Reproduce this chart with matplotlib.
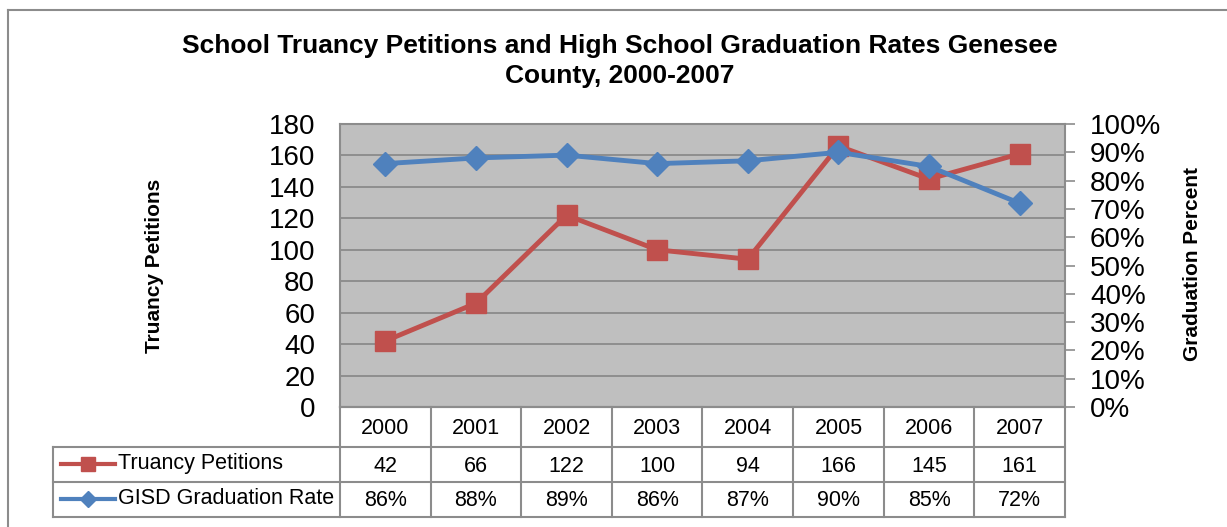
import matplotlib
matplotlib.use('Agg')
import matplotlib.pyplot as plt
from matplotlib.lines import Line2D

years = ['2000', '2001', '2002', '2003', '2004', '2005', '2006', '2007']
truancy = [42, 66, 122, 100, 94, 166, 145, 161]
grad_rate = [0.86, 0.88, 0.89, 0.86, 0.87, 0.90, 0.85, 0.72]
left_ticks = [0, 20, 40, 60, 80, 100, 120, 140, 160, 180]
right_ticks = [i / 10 for i in range(11)]

RED = '#C0504D'
BLUE = '#4F81BD'
GRID = '#868686'
BORDER = '#8C8C8C'

W, H = 1227, 527
fig = plt.figure(figsize=(W / 100, H / 100), dpi=100)
plt.rcParams['font.family'] = ['Liberation Sans', 'DejaVu Sans']


def fx(px):
    return px / W


def fy(py):
    return 1 - py / H


# plot area in pixels
L, R, T, B = 340, 1065, 124, 407
ax = fig.add_axes([fx(L), fy(B), fx(R) - fx(L), fy(T) - fy(B)])
ax.set_facecolor('#BFBFBF')
ax.set_xlim(-0.5, len(years) - 0.5)
ax.set_ylim(0, 180)
ax.set_yticks(left_ticks)
ax.set_xticks([])
ax.yaxis.grid(True, color=GRID, linewidth=1.2)
ax.set_axisbelow(True)
ax.tick_params(axis='y', length=0, labelsize=20, pad=18)
for s in ax.spines.values():
    s.set_color(BORDER)
    s.set_linewidth(1.5)

x = list(range(len(years)))
ax.plot(x, truancy, color=RED, lw=3.5, marker='s', ms=14, zorder=3)

ax2 = ax.twinx()
ax2.set_ylim(0, 1)
ax2.set_yticks(right_ticks)
ax2.set_yticklabels(['%d%%' % round(v * 100) for v in right_ticks])
ax2.tick_params(axis='y', length=7, width=1.2, color=BORDER, labelsize=20, pad=11)
for s in ax2.spines.values():
    s.set_visible(False)
ax2.plot(x, grad_rate, color=BLUE, lw=3.5, marker='D', ms=12, zorder=3)

fig.text(fx(620), fy(46), 'School Truancy Petitions and High School Graduation Rates Genesee',
         ha='center', va='center', fontsize=19, fontweight='bold')
fig.text(fx(620), fy(76), 'County, 2000-2007', ha='center', va='center',
         fontsize=19, fontweight='bold')
fig.text(fx(155), fy(266), 'Truancy Petitions', rotation=90, ha='center', va='center',
         fontsize=15, fontweight='bold')
fig.text(fx(1192), fy(264), 'Graduation Percent', rotation=90, ha='center', va='center',
         fontsize=15, fontweight='bold')

# data table
col_w = (R - L) / len(years)
rows_y = [B, 447, 482, 517]
TL = 53
lk = dict(color=BORDER, lw=1.5, transform=fig.transFigure)
# horizontal lines
fig.add_artist(Line2D([fx(L), fx(R)], [fy(B), fy(B)], **lk))
for yy in rows_y[1:]:
    fig.add_artist(Line2D([fx(TL), fx(R)], [fy(yy), fy(yy)], **lk))
# vertical lines
for i in range(len(years) + 1):
    xx = L + i * col_w
    fig.add_artist(Line2D([fx(xx), fx(xx)], [fy(B), fy(rows_y[-1])], **lk))
fig.add_artist(Line2D([fx(TL), fx(TL)], [fy(447), fy(517)], **lk))

for i, yr in enumerate(years):
    cx = L + (i + 0.5) * col_w
    fig.text(fx(cx), fy(429), yr, ha='center', va='center', fontsize=15.5)
    fig.text(fx(cx), fy(466), str(truancy[i]), ha='center', va='center', fontsize=15.5)
    fig.text(fx(cx), fy(501), '%d%%' % round(grad_rate[i] * 100), ha='center',
             va='center', fontsize=15.5)

series = [('Truancy Petitions', RED, 's', 10, 464), ('GISD Graduation Rate', BLUE, 'D', 8, 499)]
for name, c, m, ms, yy in series:
    fig.add_artist(Line2D([fx(61), fx(115)], [fy(yy), fy(yy)], color=c, lw=3,
                          transform=fig.transFigure))
    fig.add_artist(Line2D([fx(88)], [fy(yy)], color=c, marker=m, ms=ms,
                          transform=fig.transFigure))
    fig.text(fx(118), fy(yy), name, ha='left', va='center', fontsize=15.5)

# outer chart border (left and top visible)
fig.add_artist(Line2D([fx(8), fx(8)], [fy(10), 0], **lk))
fig.add_artist(Line2D([fx(8), 1], [fy(10), fy(10)], **lk))

fig.savefig('out.png', dpi=100)
